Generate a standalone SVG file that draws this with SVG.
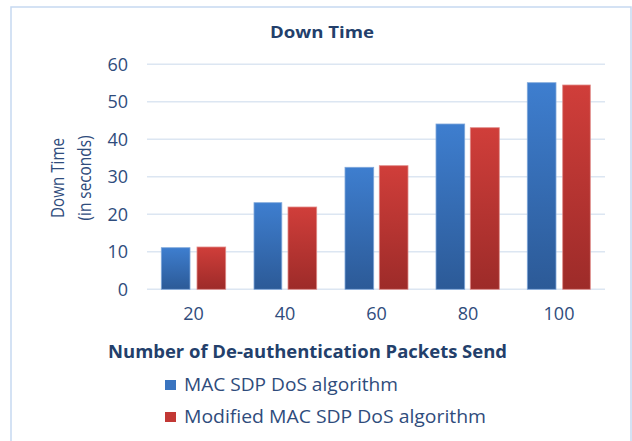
<svg xmlns="http://www.w3.org/2000/svg" width="632" height="441" viewBox="0 0 632 441">
<defs>
<linearGradient id="gb" x1="0" y1="0" x2="0" y2="1"><stop offset="0" stop-color="#3E7ECF"/><stop offset="1" stop-color="#2C5A97"/></linearGradient>
<linearGradient id="gr" x1="0" y1="0" x2="0" y2="1"><stop offset="0" stop-color="#D03E3A"/><stop offset="1" stop-color="#9D2B29"/></linearGradient>
<style>
.t{font-family:"Open Sans","Liberation Sans",sans-serif;fill:#2F4C7C}
.tick{font-size:18px;text-anchor:middle}
.yt{font-size:18px;text-anchor:end}
.b{font-weight:bold;fill:#233F6B}
.grid{stroke:#DCE6F2;stroke-width:1.5}
.bb{fill:url(#gb);stroke:#7FA7DA;stroke-width:0.8}
.br{fill:url(#gr);stroke:#E08A88;stroke-width:0.8}
</style>
</defs>
<rect x="0" y="0" width="632" height="441" fill="#fff"/>
<rect x="11" y="7" width="620" height="445" fill="#fff" stroke="#C6D9F1" stroke-width="1.5"/>
<text class="t b" x="322" y="38" font-size="16" text-anchor="middle" textLength="104" lengthAdjust="spacingAndGlyphs">Down Time</text>
<g id="grid">
<line class="grid" x1="147" y1="64.3" x2="605" y2="64.3"/>
<line class="grid" x1="147" y1="101.8" x2="605" y2="101.8"/>
<line class="grid" x1="147" y1="139.3" x2="605" y2="139.3"/>
<line class="grid" x1="147" y1="176.8" x2="605" y2="176.8"/>
<line class="grid" x1="147" y1="214.3" x2="605" y2="214.3"/>
<line class="grid" x1="147" y1="251.8" x2="605" y2="251.8"/>
<line class="grid" x1="147" y1="289.3" x2="605" y2="289.3"/>
</g>
<g id="yticks">
<text class="t yt" x="128" y="70.5">60</text>
<text class="t yt" x="128" y="108">50</text>
<text class="t yt" x="128" y="145.5">40</text>
<text class="t yt" x="128" y="183">30</text>
<text class="t yt" x="128" y="220.5">20</text>
<text class="t yt" x="128" y="258">10</text>
<text class="t yt" x="128" y="295.5">0</text>
</g>
<g id="ytitle">
<text class="t" font-size="19" text-anchor="middle" transform="translate(64,178) rotate(-90)" textLength="80" lengthAdjust="spacingAndGlyphs">Down Time</text>
<text class="t" font-size="19" text-anchor="middle" transform="translate(91,178) rotate(-90)" textLength="85" lengthAdjust="spacingAndGlyphs">(in seconds)</text>
</g>
<g id="bars">
<rect class="bb" x="161.3" y="247.7" width="28.7" height="41.6"/>
<rect class="br" x="197" y="247" width="28.7" height="42.3"/>
<rect class="bb" x="254" y="202.7" width="27.8" height="86.6"/>
<rect class="br" x="288" y="207" width="28.7" height="82.3"/>
<rect class="bb" x="345" y="167.3" width="28.7" height="122"/>
<rect class="br" x="379.3" y="165.7" width="28.7" height="123.6"/>
<rect class="bb" x="436" y="124" width="28.7" height="165.3"/>
<rect class="br" x="470.3" y="127.7" width="29" height="161.6"/>
<rect class="bb" x="527.3" y="82.7" width="28.7" height="206.6"/>
<rect class="br" x="562.7" y="85" width="27.6" height="204.3"/>
</g>
<g id="xticks">
<text class="t tick" x="193.5" y="320">20</text>
<text class="t tick" x="285" y="320">40</text>
<text class="t tick" x="376.5" y="320">60</text>
<text class="t tick" x="468" y="320">80</text>
<text class="t tick" x="559" y="320">100</text>
</g>
<text class="t b" x="108" y="358" font-size="17" textLength="399" lengthAdjust="spacingAndGlyphs">Number of De-authentication Packets Send</text>
<g id="legend">
<rect x="165" y="380" width="11" height="10" fill="#3A74BF"/>
<text class="t" x="184" y="391" font-size="18" textLength="214" lengthAdjust="spacingAndGlyphs">MAC SDP DoS algorithm</text>
<rect x="165" y="412" width="11" height="10" fill="#C23835"/>
<text class="t" x="184" y="423" font-size="18" textLength="302" lengthAdjust="spacingAndGlyphs">Modified MAC SDP DoS algorithm</text>
</g>
</svg>
